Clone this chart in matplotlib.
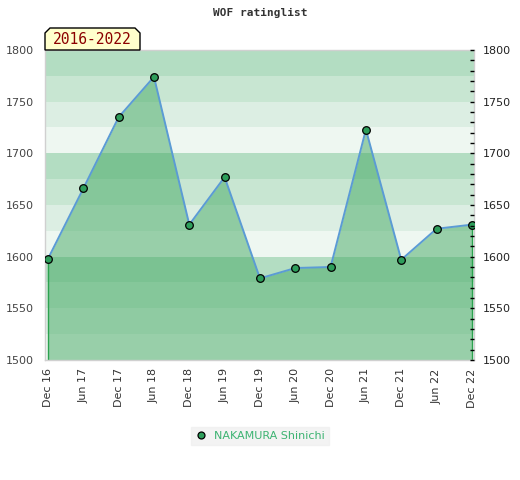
import matplotlib
matplotlib.use("Agg")
import matplotlib.pyplot as plt
from matplotlib.patches import Polygon
import numpy as np

title = "WOF ratinglist"
period = "2016-2022"
player = "NAKAMURA Shinichi"
labels = ["Dec 16", "Jun 17", "Dec 17", "Jun 18", "Dec 18", "Jun 19", "Dec 19",
          "Jun 20", "Dec 20", "Jun 21", "Dec 21", "Jun 22", "Dec 22"]
ratings = [1598, 1666, 1735, 1774, 1631, 1677, 1579, 1589, 1590, 1723, 1597, 1627, 1631]
ymin, ymax = 1500, 1800
band_colors = ["#b3ddc2", "#c8e6d2", "#dceee3", "#eef7f1"]

fig = plt.figure(figsize=(5.2, 4.8), dpi=100)
ax = fig.add_axes([45/520, 1-360/480, (474-45)/520, (360-50)/480])
x = np.arange(len(labels))

# background bands, 25 wide, pattern from top
edges = np.arange(ymax, ymin, -25)
for i, top in enumerate(edges):
    ax.axhspan(top - 25, top, color=band_colors[i % 4], lw=0, zorder=0)

ax.fill_between(x, ratings, ymin, color="#44a963", alpha=0.5, lw=0, zorder=1)
ax.vlines([x[0], x[-1]], ymin, [ratings[0], ratings[-1]], color="#2ca24f", lw=1, zorder=2)
ax.plot(x, ratings, color="#5b9bd5", lw=1.4, zorder=3)
ax.plot(x, ratings, "o", ms=5.5, mfc="#2e9e5b", mec="black", mew=0.9, zorder=4)

ax.set_xlim(-0.085, 12.06)
ax.set_ylim(ymin, ymax)
ax.set_xticks(x)
ax.set_xticklabels(labels, rotation=90, fontsize=8, color="#333333")
ax.set_yticks(np.arange(ymin, ymax + 1, 50))
ax.tick_params(axis="x", length=0, pad=6)
ax.tick_params(axis="y", length=0, labelsize=8, labelcolor="#444444", pad=8)
for s in ax.spines.values():
    s.set_color("#d0d0d0")
    s.set_linewidth(1)

ax2 = ax.twinx()
ax2.set_ylim(ymin, ymax)
ax2.set_yticks(np.arange(ymin, ymax + 1, 50))
ax2.set_yticks(np.arange(ymin, ymax + 1, 10), minor=True)
ax2.tick_params(axis="y", which="both", direction="in", length=3, width=1,
                labelsize=8, labelcolor="#222222", color="black", pad=6)
for s in ax2.spines.values():
    s.set_visible(False)

fig.text(260/520, 1-13/480, title, ha="center", va="center", fontsize=8,
         family="DejaVu Sans Mono", weight="bold", color="#333333")

# period label box with chamfered top corners
L, R, T, B, c = 45, 140, 28, 50, 5
pts = [(L, B), (L, T + c), (L + c, T), (R - c, T), (R, T + c), (R, B)]
pts = [(px / 520, 1 - py / 480) for px, py in pts]
fig.patches.append(Polygon(pts, closed=True, transform=fig.transFigure,
                           facecolor="#ffffcc", edgecolor="black", lw=1, zorder=5))
fig.text((L + R) / 2 / 520, 1 - (T + B) / 2 / 480 - 0.002, period, ha="center", va="center",
         fontsize=10.5, family="DejaVu Sans Mono", color="#8b0000", zorder=6)

leg_h = [plt.Line2D([], [], ls="none", marker="o", ms=5, mfc="#2e9e5b", mec="black", mew=0.9)]
leg = fig.legend(leg_h, [player], loc="center", bbox_to_anchor=(260/520, 1-436/480),
                 frameon=True, fancybox=False, fontsize=8, handlelength=1, handletextpad=0.6,
                 borderpad=0.4, labelcolor="#3cb371")
leg.get_frame().set_facecolor("#f0f0f0")
leg.get_frame().set_edgecolor("#f0f0f0")

fig.savefig("out.png", dpi=100)
